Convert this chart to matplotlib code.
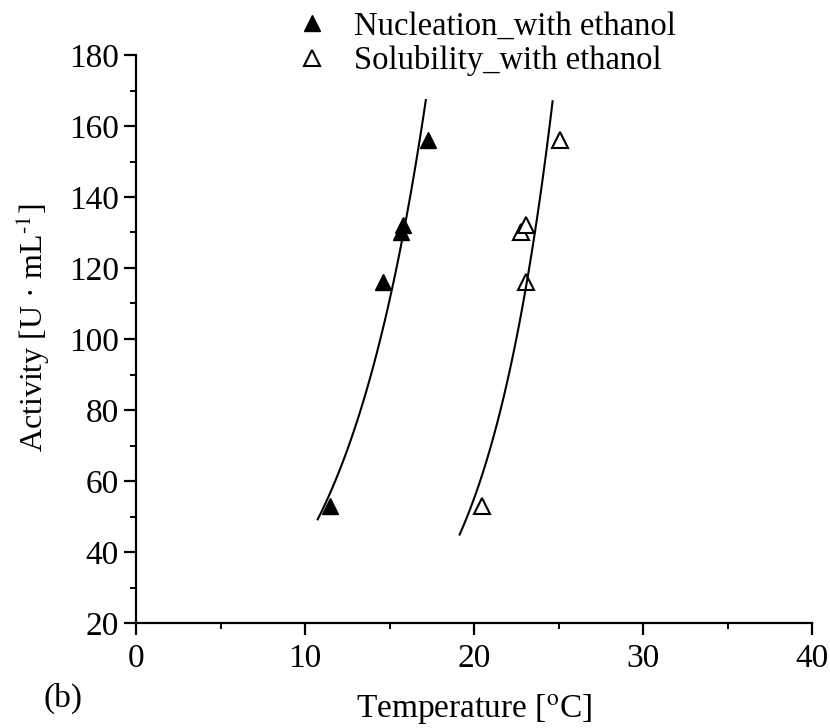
import numpy as np
import matplotlib
matplotlib.use("Agg")
import matplotlib.pyplot as plt
from matplotlib.ticker import MultipleLocator

plt.rcParams['font.family'] = ['Liberation Serif', 'DejaVu Serif']
plt.rcParams['mathtext.fontset'] = 'stix'

# datos
temp_nuc = [11.5, 14.6, 15.7, 15.8, 17.3]
act_nuc = [53, 116, 130, 132, 156]
temp_sol = [20.5, 23.1, 22.8, 23.1, 25.1]
act_sol = [53, 116, 130, 132, 156]

# rango de las curvas de ajuste
rango_nuc = (10.75, 17.15)
rango_sol = (19.15, 24.65)


def ajuste_exp(t, a, rango):
    # ajuste exponencial A = exp(b*T + c)
    b, c = np.polyfit(t, np.log(a), 1)
    tt = np.linspace(rango[0], rango[1], 100)
    return tt, np.exp(b*tt + c)


fig = plt.figure(figsize=(8.3, 7.28), dpi=100)
ax = fig.add_axes([136/830, 1-623/728, 676/830, 568/728])

ax.plot(temp_nuc, act_nuc, '^', color='black', markersize=11, label='Nucleation_with ethanol')
ax.plot(temp_sol, act_sol, '^', markerfacecolor='white', markeredgecolor='black',
        markeredgewidth=1.5, markersize=11, label='Solubility_with ethanol')

tt, aa = ajuste_exp(temp_nuc, act_nuc, rango_nuc)
ax.plot(tt, aa, color='black', lw=1.5)
tt, aa = ajuste_exp(temp_sol, act_sol, rango_sol)
ax.plot(tt, aa, color='black', lw=1.5)

ax.set_xlim(0, 40)
ax.set_ylim(20, 180)
ax.xaxis.set_major_locator(MultipleLocator(10))
ax.xaxis.set_minor_locator(MultipleLocator(5))
ax.yaxis.set_major_locator(MultipleLocator(20))
ax.yaxis.set_minor_locator(MultipleLocator(10))
ax.spines['top'].set_visible(False)
ax.spines['right'].set_visible(False)
for s in ('left', 'bottom'):
    ax.spines[s].set_linewidth(1.6)
ax.tick_params(which='major', direction='out', length=8.5, width=1.6, labelsize=24)
ax.tick_params(which='minor', direction='out', length=4, width=1.4)
ax.tick_params(axis='x', which='major', pad=6)
ax.tick_params(axis='y', which='major', pad=4)

ax.set_xlabel(r'Temperature [$^{\rm o}$C]', fontsize=24, va='top')
ax.xaxis.set_label_coords(0.5, -0.121)
ax.set_ylabel('Activity [U · mL$^{\\rm \u20101}$]', fontsize=23)
ax.yaxis.set_label_coords(-0.125, 0.519)

ax.legend(loc='upper left', bbox_to_anchor=(296/830, 0.985), bbox_transform=fig.transFigure,
          frameon=False, fontsize=23.5, handlelength=1.0, handletextpad=0.77,
          labelspacing=0.12, borderpad=0, borderaxespad=0)

fig.text(43/830, 1-698/728, '(b)', fontsize=24, va='center', ha='left')

plt.savefig('out.png')
